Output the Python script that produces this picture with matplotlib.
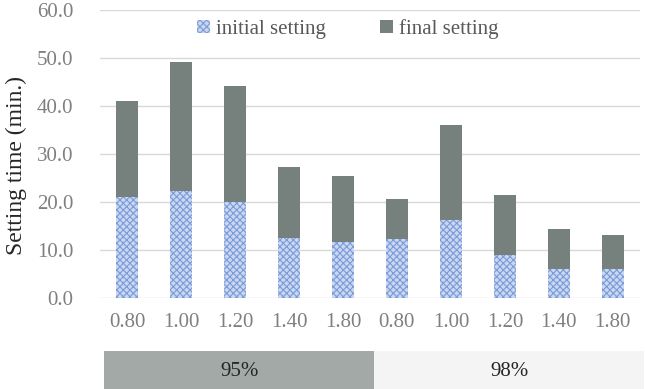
import matplotlib.pyplot as plt
import matplotlib.transforms as mtransforms
from matplotlib.patches import Rectangle
import numpy as np

plt.rcParams['font.family'] = ['Liberation Serif', 'DejaVu Serif']
plt.rcParams['hatch.linewidth'] = 0.8

# data
ratios = ['0.80', '1.00', '1.20', '1.40', '1.80',
          '0.80', '1.00', '1.20', '1.40', '1.80']
initial = [21.0, 22.2, 20.0, 12.6, 11.6, 12.2, 16.2, 8.9, 6.0, 6.0]
total = [41.0, 49.2, 44.1, 27.2, 25.4, 20.6, 36.0, 21.5, 14.3, 13.1]
groups = ['95%', '98%']
group_sizes = [5, 5]

final = [t - i for t, i in zip(total, initial)]

fig = plt.figure(figsize=(6.45, 3.89), dpi=100)
ax = fig.add_axes([0.155, 0.234, 0.837, 0.740])

x = np.arange(len(ratios))
ax.bar(x, initial, width=0.4, color='#c9d7f2', edgecolor='#7b9bd8',
       hatch='xxxxx', linewidth=0, label='initial setting', zorder=3)
ax.bar(x, final, bottom=initial, width=0.4, color='#76807c',
       edgecolor='#76807c', linewidth=0, label='final setting', zorder=3)

ax.set_xlim(-0.5, len(ratios) - 0.5)
ax.set_ylim(0, 60)
ax.set_yticks(np.arange(0, 61, 10))
ax.set_yticklabels(['%.1f' % v for v in np.arange(0, 61, 10)])
ax.set_xticks(x)
ax.set_xticklabels(ratios)
ax.yaxis.grid(True, color='#d9d9d9', linewidth=1, zorder=0)
ax.set_axisbelow(True)
for s in ax.spines.values():
    s.set_visible(False)
ax.tick_params(length=0, labelsize=15, colors='#7f7f7f')
ax.tick_params(axis='x', pad=11)
ax.tick_params(axis='y', pad=19)

ax.set_ylabel('Setting time (min.)', fontsize=17, color='#262626')
ax.yaxis.set_label_coords(-0.135, 0.46)

ax.legend(loc='upper center', bbox_to_anchor=(0.459, 1.035), ncol=2,
          frameon=False, fontsize=15, labelcolor='#595959',
          handlelength=0.6, handleheight=0.6, handletextpad=0.3,
          columnspacing=2.6)

# group boxes below the axis
trans = mtransforms.blended_transform_factory(ax.transData, fig.transFigure)
box_colors = ['#a3a9a7', '#f3f4f3']
start = -0.42
for g, n, c in zip(groups, group_sizes, box_colors):
    end = start + n if start > -0.5 else -0.5 + n
    left = start
    right = end
    fig.patches.append(Rectangle((left, 0.0), right - left, 0.098,
                                 transform=trans, facecolor=c,
                                 edgecolor='none'))
    fig.text((left + right) / 2, 0.044, g, transform=trans,
             ha='center', va='center', fontsize=15, color='#262626')
    start = end

fig.savefig('out.png', dpi=100)
